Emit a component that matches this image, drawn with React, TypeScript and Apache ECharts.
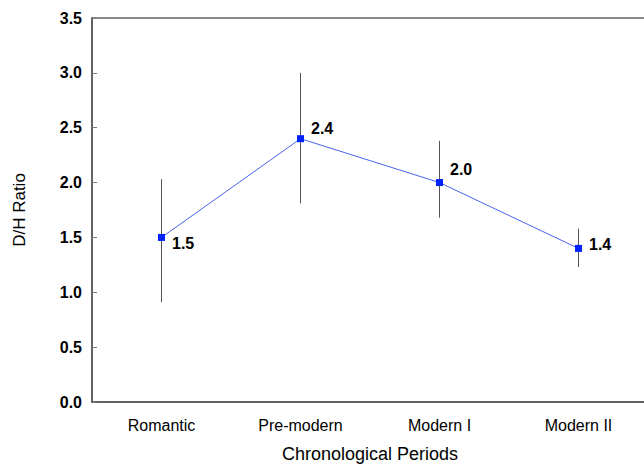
import React, { useEffect, useRef } from "react";
import * as echarts from "echarts";

const categories = ["Romantic", "Pre-modern", "Modern I", "Modern II"];
const means = [1.5, 2.4, 2.0, 1.4];
const errLow = [0.91, 1.81, 1.68, 1.23];
const errHigh = [2.03, 3.0, 2.38, 1.58];
const yTicks = ["0.0", "0.5", "1.0", "1.5", "2.0", "2.5", "3.0", "3.5"];
const labelOffsets: [number, number][] = [[2, 6], [2, -10], [2, -13], [2, -4]];

export default function App() {
  const ref = useRef<HTMLDivElement>(null);
  useEffect(() => {
    if (!ref.current) return;
    const chart = echarts.init(ref.current, null, { renderer: "svg" });
    const font = "'Liberation Sans', Arial, sans-serif";
    chart.setOption({
      animation: false,
      grid: {
        left: 92, top: 18, bottom: 65, right: -4,
        outerBoundsMode: "none", containLabel: false,
        show: true, borderColor: "#666", borderWidth: 1.5,
      },
      xAxis: {
        type: "category",
        data: categories,
        boundaryGap: true,
        axisLine: { lineStyle: { color: "#555", width: 1.5 } },
        axisTick: { inside: true, length: 5, lineStyle: { color: "#777" } },
        axisLabel: { color: "#000", fontSize: 16, fontFamily: font, margin: 15 },
        name: "Chronological Periods",
        nameLocation: "middle",
        nameGap: 43,
        nameTextStyle: { color: "#000", fontSize: 18, fontFamily: font },
      },
      yAxis: {
        type: "value",
        min: 0,
        max: 3.5,
        interval: 0.5,
        splitLine: { show: false },
        axisLine: { show: true, lineStyle: { color: "#555", width: 1.5 } },
        axisTick: { show: true, inside: true, length: 5, lineStyle: { color: "#777" } },
        axisLabel: {
          color: "#000",
          fontSize: 16,
          fontWeight: "bold",
          fontFamily: font,
          margin: 10,
          formatter: (v: number) => yTicks[Math.round(v * 2)] ?? v.toFixed(1),
        },
        name: "D/H Ratio",
        nameLocation: "middle",
        nameGap: 64,
        nameRotate: 90,
        nameTextStyle: { color: "#000", fontSize: 17, fontFamily: font },
      },
      series: [
        {
          type: "custom",
          renderItem: (params: any, api: any) => {
            const x = api.value(0);
            const lo = api.coord([x, api.value(1)]);
            const hi = api.coord([x, api.value(2)]);
            return {
              type: "line",
              shape: { x1: lo[0], y1: lo[1], x2: hi[0], y2: hi[1] },
              style: { stroke: "#555", lineWidth: 1 },
            };
          },
          data: categories.map((_, i) => [i, errLow[i], errHigh[i]]),
          z: 1,
        },
        {
          type: "line",
          data: means.map((v, i) => ({
            value: v,
            label: {
              show: true,
              position: "right",
              offset: labelOffsets[i],
              formatter: v.toFixed(1),
              color: "#000",
              fontSize: 16,
              fontWeight: "bold",
              fontFamily: font,
            },
          })),
          symbol: "rect",
          symbolSize: 7,
          itemStyle: { color: "#0022ff" },
          lineStyle: { color: "#4a62f0", width: 1 },
          z: 2,
        },
      ],
    });
    return () => chart.dispose();
  }, []);
  return <div ref={ref} style={{ width: 644, height: 467, position: "absolute", left: 0, top: 0 }} />;
}
